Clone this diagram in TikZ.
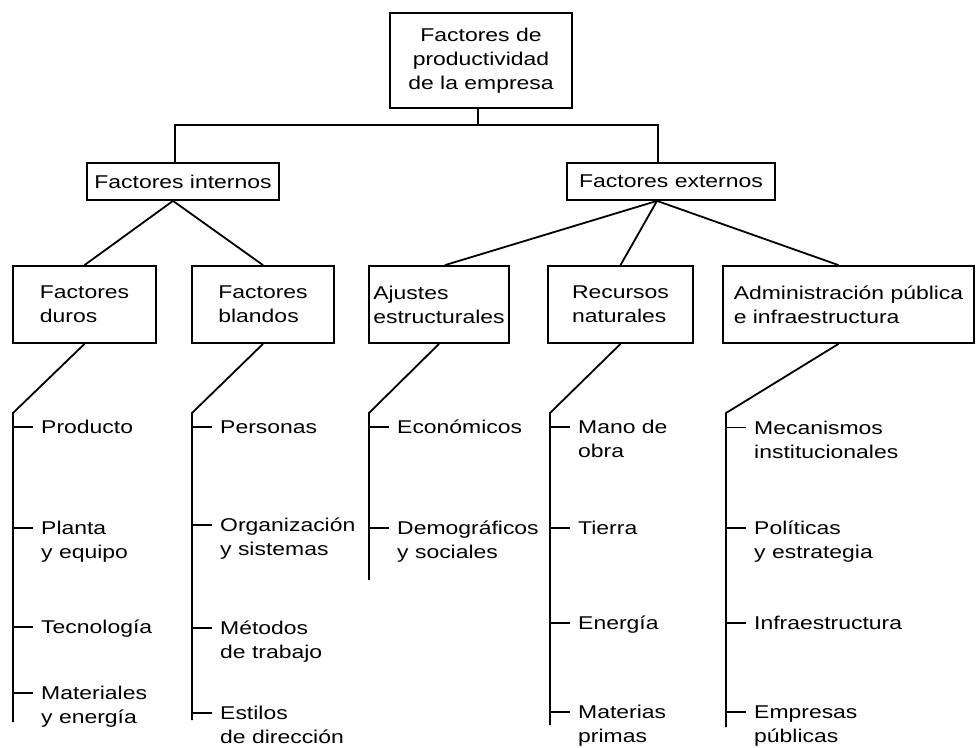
\documentclass[tikz,border=0pt]{standalone}
\usepackage{fontspec}
\setmainfont{Liberation Sans}[FakeStretch=1.24]
\usetikzlibrary{calc}

\begin{document}
\begin{tikzpicture}[x=1pt,y=-1pt,
    caja/.style={draw,line width=1.8pt,inner sep=0pt,font=\fontsize{18.5}{24}\selectfont},
    item/.style={anchor=base west,inner sep=0pt,align=left,font=\fontsize{18.5}{24}\selectfont},
    rama/.style={line width=1.8pt}]
  \useasboundingbox (0,0) rectangle (976,747);
  % niveles 1 y 2
  \node[caja,align=center,minimum width=182pt,minimum height=95pt] (raiz) at (481,60.5) {Factores de\\productividad\\de la empresa};
  \node[caja,minimum width=192pt,minimum height=37pt] (internos) at (183,181.5) {Factores internos};
  \node[caja,minimum width=208pt,minimum height=37pt] (externos) at (671,181.5) {Factores externos};
  \draw[rama] ([xshift=-3pt]raiz.south) -- ++(0,16) coordinate (barra);
  \draw[rama] ([xshift=-8pt]internos.north) |- (barra) -| ([xshift=-13pt]externos.north);
  % nivel 3
  \node[caja,align=left,minimum width=143pt,minimum height=77pt] (duros) at (84.5,304.5) {Factores\\duros};
  \node[caja,align=left,minimum width=142pt,minimum height=77pt] (blandos) at (263,304.5) {Factores\\blandos};
  \node[caja,align=left,minimum width=140pt,minimum height=77pt] (ajustes) at (439,304.5) {Ajustes\\estructurales};
  \node[caja,align=left,minimum width=145pt,minimum height=77pt] (recursos) at (620.5,304.5) {Recursos\\naturales};
  \node[caja,align=left,minimum width=251pt,minimum height=77pt] (admin) at (848.5,304.5) {Administración pública\\e infraestructura};
  \draw[rama] ([xshift=-10pt]internos.south) -- (duros.north);
  \draw[rama] ([xshift=-10pt]internos.south) -- (blandos.north);
  \draw[rama] ([xshift=-14pt]externos.south) -- ([xshift=6pt]ajustes.north);
  \draw[rama] ([xshift=-14pt]externos.south) -- (recursos.north);
  \draw[rama] ([xshift=-14pt]externos.south) -- ([xshift=-10pt]admin.north);
  % troncos de las listas
  \draw[rama] (duros.south) -- (13,413) -- (13,722);
  \draw[rama] (blandos.south) -- (192,413) -- (192,720);
  \draw[rama] (ajustes.south) -- (369,413) -- (369,580);
  \draw[rama] (recursos.south) -- (550,413) -- (550,725);
  \draw[rama] ([xshift=-10pt]admin.south) -- (726,413) -- (726,727);
  % elementos (\k = lineas extra)
  \foreach \y/\k/\txt [count=\i] in {433.5/0/Producto, 534.5/1/{Planta\\y equipo}, 633.5/0/Tecnología, 699.5/1/{Materiales\\y energía}} {
    \node[item] (duros-\i) at (41,\y+24*\k) {\txt};
    \draw[rama] (duros-\i.base west) ++(-8,-6.5-24*\k) -- ++(-20,0);
  }
  \foreach \y/\k/\txt [count=\i] in {433.5/0/Personas, 531.5/1/{Organización\\y sistemas}, 634.5/1/{Métodos\\de trabajo}, 719.5/1/{Estilos\\de dirección}} {
    \node[item] (blandos-\i) at (220,\y+24*\k) {\txt};
    \draw[rama] (blandos-\i.base west) ++(-8,-6.5-24*\k) -- ++(-20,0);
  }
  \foreach \y/\k/\txt [count=\i] in {433.5/0/Económicos, 534.5/1/{Demográficos\\y sociales}} {
    \node[item] (ajustes-\i) at (397,\y+24*\k) {\txt};
    \draw[rama] (ajustes-\i.base west) ++(-8,-6.5-24*\k) -- ++(-20,0);
  }
  \foreach \y/\k/\txt [count=\i] in {433.5/1/{Mano de\\obra}, 534.5/0/Tierra, 629.5/0/Energía, 718.5/1/{Materias\\primas}} {
    \node[item] (recursos-\i) at (578,\y+24*\k) {\txt};
    \draw[rama] (recursos-\i.base west) ++(-8,-6.5-24*\k) -- ++(-20,0);
  }
  \foreach \y/\k/\txt [count=\i] in {434/1/{Mecanismos\\institucionales}, 534.5/1/{Políticas\\y estrategia}, 629.5/0/Infraestructura, 718.5/1/{Empresas\\públicas}} {
    \node[item] (admin-\i) at (754,\y+24*\k) {\txt};
    \draw[rama] (admin-\i.base west) ++(-8,-6.5-24*\k) -- ++(-20,0);
  }
\end{tikzpicture}
\end{document}
